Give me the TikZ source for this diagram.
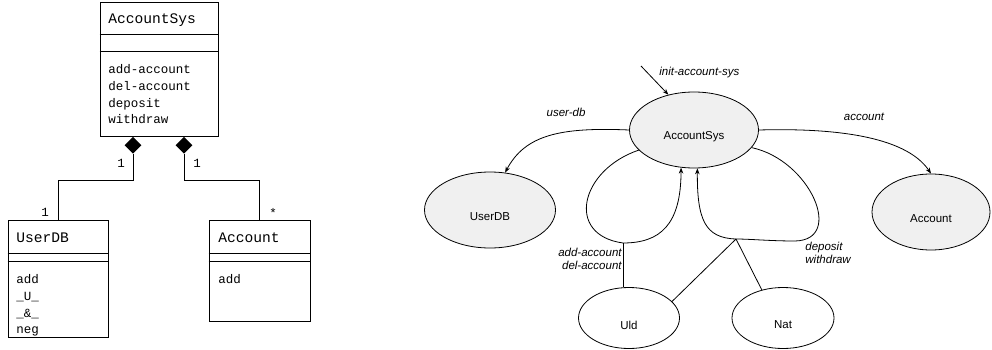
\documentclass[tikz,border=0pt]{standalone}
\usepackage{fontspec}
\setsansfont{Liberation Sans}
\setmonofont{Liberation Mono}
\usetikzlibrary{arrows.meta,shapes.geometric,patterns.meta}

\newcommand{\lowtext}[1]{\raisebox{-7pt}[\height][\depth]{#1}}

\begin{document}
\begin{tikzpicture}[x=1pt,y=-1pt,line width=0.8pt,
    classbox/.style={draw, rectangle, inner sep=0pt},
    cname/.style={font=\ttfamily\fontsize{14.6}{17}\selectfont, anchor=west, inner sep=0pt},
    cops/.style={font=\ttfamily\fontsize{12.5}{16.8}\selectfont, anchor=north west, align=left, inner sep=0pt},
    mult/.style={font=\ttfamily\fontsize{12.5}{15}\selectfont, inner sep=0pt},
    whole/.style={diamond, fill=black, aspect=1, minimum size=17pt, inner sep=0pt, anchor=north},
    proc/.style={ellipse, draw, font=\sffamily\fontsize{11.5}{13}\selectfont},
    shaded/.style={proc, pattern={Dots[distance=2pt,radius=0.4pt]}, pattern color=black!70},
    lbl/.style={font=\sffamily\itshape\fontsize{11.5}{13}\selectfont, inner sep=1pt},
    flow/.style={-{Stealth[length=6pt,width=4.5pt]}}]

    \useasboundingbox (0,0) rectangle (992,350);

    % class diagram
    \node[classbox, minimum width=118pt, minimum height=134pt] (sysbox) at (159,69) {};
    \draw ([yshift=-33pt]sysbox.north west) -- ([yshift=-33pt]sysbox.north east);
    \draw ([yshift=-50pt]sysbox.north west) -- ([yshift=-50pt]sysbox.north east);
    \node[cname] (sysname) at (108,20) {AccountSys};
    \node[cops] (sysops) at (108,64) {add-account\\del-account\\deposit\\withdraw};

    \node[classbox, minimum width=100pt, minimum height=117pt] (userbox) at (58,278.5) {};
    \draw ([yshift=-34pt]userbox.north west) -- ([yshift=-34pt]userbox.north east);
    \draw ([yshift=-42pt]userbox.north west) -- ([yshift=-42pt]userbox.north east);
    \node[cname] (username) at (16,238) {UserDB};
    \node[cops] (userops) at (16,274) {add\\\_U\_\\\_\&\_\\neg};

    \node[classbox, minimum width=101pt, minimum height=101pt] (accbox) at (259.5,270.5) {};
    \draw ([yshift=-34pt]accbox.north west) -- ([yshift=-34pt]accbox.north east);
    \draw ([yshift=-42pt]accbox.north west) -- ([yshift=-42pt]accbox.north east);
    \node[cname] (accname) at (218,238) {Account};
    \node[cops] (accops) at (218,274) {add};

    \node[whole] (d1) at ([xshift=-26pt]sysbox.south) {};
    \node[whole] (d2) at ([xshift=25pt]sysbox.south) {};
    \draw (d1.south) -- ++(0,26) -| (userbox.north);
    \draw (d2.south) -- ++(0,26) -| (accbox.north);
    \node[mult] (m1) at (121,163) {1};
    \node[mult] (m2) at (197,163) {1};
    \node[mult] (m3) at (45,212) {1};
    \node[mult] (m4) at (273,213) {*};

    % process diagram
    \node[shaded, minimum width=129pt, minimum height=76pt] (sys) at (694,130) {\lowtext{AccountSys}};
    \node[shaded, minimum width=131pt, minimum height=76pt] (userdb) at (490,210) {\lowtext{UserDB}};
    \node[shaded, minimum width=118pt, minimum height=76pt] (account) at (931,212) {\lowtext{Account}};
    \node[proc, minimum width=101pt, minimum height=61pt] (uld) at (629,318) {\lowtext{Uld}};
    \node[proc, minimum width=102pt, minimum height=61pt] (nat) at (783,318) {\lowtext{Nat}};

    \coordinate (init) at (641,66);
    \coordinate (jl) at (623,243);
    \coordinate (jr) at (736,239);

    \draw[flow] (init) -- (sys.126);
    \node[lbl, anchor=west] (initlbl) at (658,73) {init-account-sys};

    \draw[flow] (sys.west) .. controls (560,127) and (525,135) .. (userdb.68);
    \node[lbl] (userlbl) at (566,112) {user-db};
    \draw[flow] (sys.east) .. controls (830,128) and (905,135) .. (account.north);
    \node[lbl] (acclbl) at (864,117) {account};

    \draw[flow] (sys.200) .. controls (580,170) and (565,235) .. (jl)
        .. controls (660,243) and (681,225) .. (sys.251);
    \draw[flow] (sys.343) .. controls (810,160) and (845,240) .. (795,241)
        .. controls (770,241) and (750,239) .. (jr)
        .. controls (705,238) and (697,220) .. (sys.275);

    \draw (jl) -- node[lbl, left, align=right, pos=.35] (addlbl) {add-account\\del-account} (jl |- uld.north);
    \draw (jr) -- (uld.21);
    \draw (jr) -- (nat.127);
    \node[lbl, align=left, anchor=north west] (deplbl) at (804,241) {deposit\\withdraw};
\end{tikzpicture}
\end{document}
